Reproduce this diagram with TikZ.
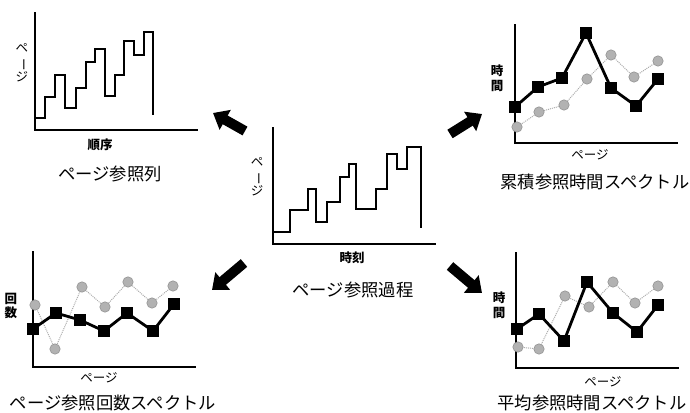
\documentclass[tikz,border=0pt]{standalone}
\usepackage{fontspec}
\newfontfamily\jp{Noto Sans CJK JP}
\usetikzlibrary{arrows.meta}
\tikzset{
  axis/.style={line width=2.6pt, line cap=rect},
  stepline/.style={line width=1.8pt, line join=miter},
  blkline/.style={line width=2.8pt, line join=round},
  gryline/.style={line width=1pt, gray!65, densely dotted},
  title/.style={font=\jp\fontsize{17.3}{20}\selectfont, inner sep=0pt},
  axlabel/.style={font=\jp\bfseries\fontsize{12.5}{14.5}\selectfont, inner sep=0pt, align=center},
  vlabel/.style={font=\jp\fontsize{12.5}{14.5}\selectfont, inner sep=0pt, align=center},
  bigarrow/.style={line width=10pt, -{Triangle[length=14pt,width=22pt]}},
}
\newcommand{\sqmark}[1]{\fill[black] (#1) ++(-6,-6) rectangle ++(12,12);}
\newcommand{\cirmark}[1]{\fill[gray!60] (#1) circle (5.2);\draw[gray!85,line width=0.6pt] (#1) circle (5.2);}
\newcommand{\vpage}{ペ\\\rotatebox[origin=c]{-90}{ー}\\ジ}
\begin{document}
\begin{tikzpicture}[x=1pt,y=-1pt]
\useasboundingbox (0,0) rectangle (690,412);

% ---------- top-left: page reference sequence
\draw[axis] (35,13) -- (35,130) -- (197,130);
\draw[stepline] (35,118) -| (45,97) -| (55,75) -| (65,108) -| (76,88) -| (86,62) -| (95,49) -| (105,96) -| (115,75) -| (124,41) -| (134,55) -| (144,32) -| (153,115);
\node[vlabel] (tlv) at (22,63) {\vpage};
\node[axlabel] (tlx) at (100,145) {順序};
\node[title] (tlt) at (110,174) {ページ参照列};

% ---------- center: page reference process
\draw[axis] (273,128) -- (273,244) -- (435,244);
\draw[stepline] (273,232) -| (290,210) -| (308,189) -| (316,222) -| (327,202) -| (340,177) -| (349,164) -| (356,209) -| (376,189) -| (387,154) -| (397,169) -| (407,147) -| (421,228);
\node[vlabel] (cv) at (257,177) {\vpage};
\node[axlabel] (cx) at (352,258) {時刻};
\node[title] (ct) at (353,290) {ページ参照過程};

% ---------- top-right: cumulative reference time spectrum
\draw[axis] (515,25) -- (515,143) -- (677,143);
\draw[gryline] (517,127) -- (539,112) -- (564,105) -- (587,79) -- (611,55) -- (634,77) -- (658,61);
\draw[blkline] (515,107) -- (538,87) -- (562,78) -- (586,33) -- (611,88) -- (636,106) -- (658,79);
\foreach \p in {{517,127},{539,112},{564,105},{587,79},{611,55},{634,77},{658,61}} {\cirmark{\p}}
\foreach \p in {{515,107},{538,87},{562,78},{586,33},{611,88},{636,106},{658,79}} {\sqmark{\p}}
\node[axlabel] (trv) at (497,78) {時\\間};
\node[vlabel] (trx) at (590,155) {ページ};
\node[title] (trt) at (595,182) {累積参照時間スペクトル};

% ---------- bottom-left: page reference count spectrum
\draw[axis] (33,252) -- (33,367) -- (195,367);
\draw[gryline] (35,305) -- (55,349) -- (82,287) -- (105,307) -- (128,282) -- (152,303) -- (173,286);
\draw[blkline] (33,329) -- (56,313) -- (80,320) -- (104,331) -- (127,313) -- (153,331) -- (174,304);
\foreach \p in {{35,305},{55,349},{82,287},{105,307},{128,282},{152,303},{173,286}} {\cirmark{\p}}
\foreach \p in {{33,329},{56,313},{80,320},{104,331},{127,313},{153,331},{174,304}} {\sqmark{\p}}
\node[axlabel] (blv) at (11,306) {回\\数};
\node[vlabel] (blx) at (99,378) {ページ};
\node[title] (blt) at (113,403) {ページ参照回数スペクトル};

% ---------- bottom-right: mean reference time spectrum
\draw[axis] (516,253) -- (516,368) -- (678,368);
\draw[gryline] (518,347) -- (539,349) -- (565,296) -- (589,307) -- (613,282) -- (635,303) -- (658,286);
\draw[blkline] (517,329) -- (539,314) -- (564,341) -- (587,282) -- (613,313) -- (637,332) -- (658,305);
\foreach \p in {{518,347},{539,349},{565,296},{589,307},{613,282},{635,303},{658,286}} {\cirmark{\p}}
\foreach \p in {{517,329},{539,314},{564,341},{587,282},{613,313},{637,332},{658,305}} {\sqmark{\p}}
\node[axlabel] (brv) at (499,305) {時\\間};
\node[vlabel] (brx) at (603,382) {ページ};
\node[title] (brt) at (592,403) {平均参照時間スペクトル};

% ---------- block arrows from the central process
\coordinate (a1s) at (245,131); \coordinate (a1e) at (213,113);
\coordinate (a2s) at (244,263); \coordinate (a2e) at (212,290);
\coordinate (a3s) at (450,134); \coordinate (a3e) at (482,114);
\coordinate (a4s) at (450,266); \coordinate (a4e) at (482,293);
\draw[bigarrow] (a1s) -- (a1e);
\draw[bigarrow] (a2s) -- (a2e);
\draw[bigarrow] (a3s) -- (a3e);
\draw[bigarrow] (a4s) -- (a4e);
\end{tikzpicture}
\end{document}
